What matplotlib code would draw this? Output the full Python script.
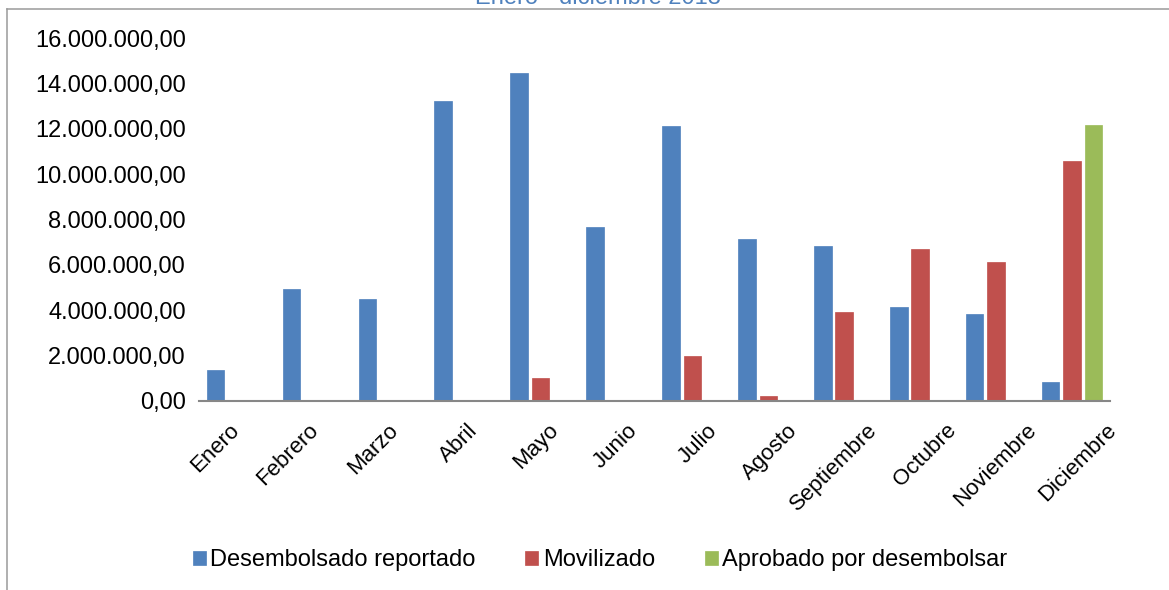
import matplotlib
matplotlib.use("Agg")
import matplotlib.pyplot as plt
import numpy as np
from matplotlib.lines import Line2D
from matplotlib.transforms import ScaledTranslation
from matplotlib.ticker import FuncFormatter

plt.rcParams['font.family'] = ['Liberation Sans', 'DejaVu Sans']

months = ["Enero", "Febrero", "Marzo", "Abril", "Mayo", "Junio", "Julio",
          "Agosto", "Septiembre", "Octubre", "Noviembre", "Diciembre"]
desembolsado = [1370000, 4940000, 4500000, 13210000, 14470000, 7650000,
                12100000, 7130000, 6830000, 4140000, 3820000, 820000]
movilizado = [0, 0, 0, 0, 1000000, 0, 2000000, 220000, 3920000, 6700000,
              6140000, 10580000]
aprobado = [0, 0, 0, 0, 0, 0, 0, 0, 0, 0, 0, 12160000]
series_names = ["Desembolsado reportado", "Movilizado", "Aprobado por desembolsar"]
colors = ["#4F81BD", "#C0504D", "#9BBB59"]
yticks = [0, 2000000, 4000000, 6000000, 8000000, 10000000, 12000000,
          14000000, 16000000]
title = "Enero - diciembre 2013"

fig = plt.figure(figsize=(11.69, 5.90), dpi=100)
ax = fig.add_axes([199/1169, 189/590, 911/1169, 363/590])

x = np.arange(len(months))
off = 0.283
w = 0.232
for i, (vals, c, name) in enumerate(zip([desembolsado, movilizado, aprobado], colors, series_names)):
    v = np.array(vals, dtype=float)
    mask = v > 0
    ax.bar(x[mask] + (i - 1) * off, v[mask], width=w, color=c,
           edgecolor=c, linewidth=0.5, label=name, zorder=2)

ax.set_xlim(-0.5, 11.5)
ax.set_ylim(0, 16000000)
ax.set_yticks(yticks)

def fmt(v, pos):
    s = f"{v:,.2f}"
    return s.replace(",", "X").replace(".", ",").replace("X", ".")

ax.yaxis.set_major_formatter(FuncFormatter(fmt))
ax.tick_params(axis='y', length=0, pad=9.4, labelsize=17, colors='black')
ax.set_xticks(x)
ax.set_xticklabels(months, rotation=45, ha='right', va='center',
                   rotation_mode='anchor', fontsize=16)
ax.tick_params(axis='x', length=0, pad=19)
for i, lab in enumerate(ax.get_xticklabels()):
    dx = (-1 + 3.8 * i) / 100.0
    lab.set_transform(lab.get_transform() + ScaledTranslation(dx, 0, fig.dpi_scale_trans))

for s in ['top', 'right', 'left']:
    ax.spines[s].set_visible(False)
ax.spines['bottom'].set_color('#878787')
ax.spines['bottom'].set_linewidth(1.5)

handles, labels = ax.get_legend_handles_labels()
fig.legend(handles, labels, loc='center', bbox_to_anchor=(600/1169, 30/590),
           ncol=3, frameon=False, fontsize=17, handlelength=0.55,
           handleheight=0.55, handletextpad=0.2, columnspacing=2.1)

fig.text(597.5/1169, 1 - 4/590, title, ha='center', va='baseline',
         fontsize=17, color='#4F81BD')

fig.add_artist(Line2D([7.3/1169, 1.0], [1 - 8.5/590, 1 - 8.5/590],
                      transform=fig.transFigure, color='#9A9A9A', lw=1.1))
fig.add_artist(Line2D([7.3/1169, 7.3/1169], [0, 1 - 8.5/590],
                      transform=fig.transFigure, color='#9A9A9A', lw=1.1))

fig.savefig("out.png", dpi=100)
